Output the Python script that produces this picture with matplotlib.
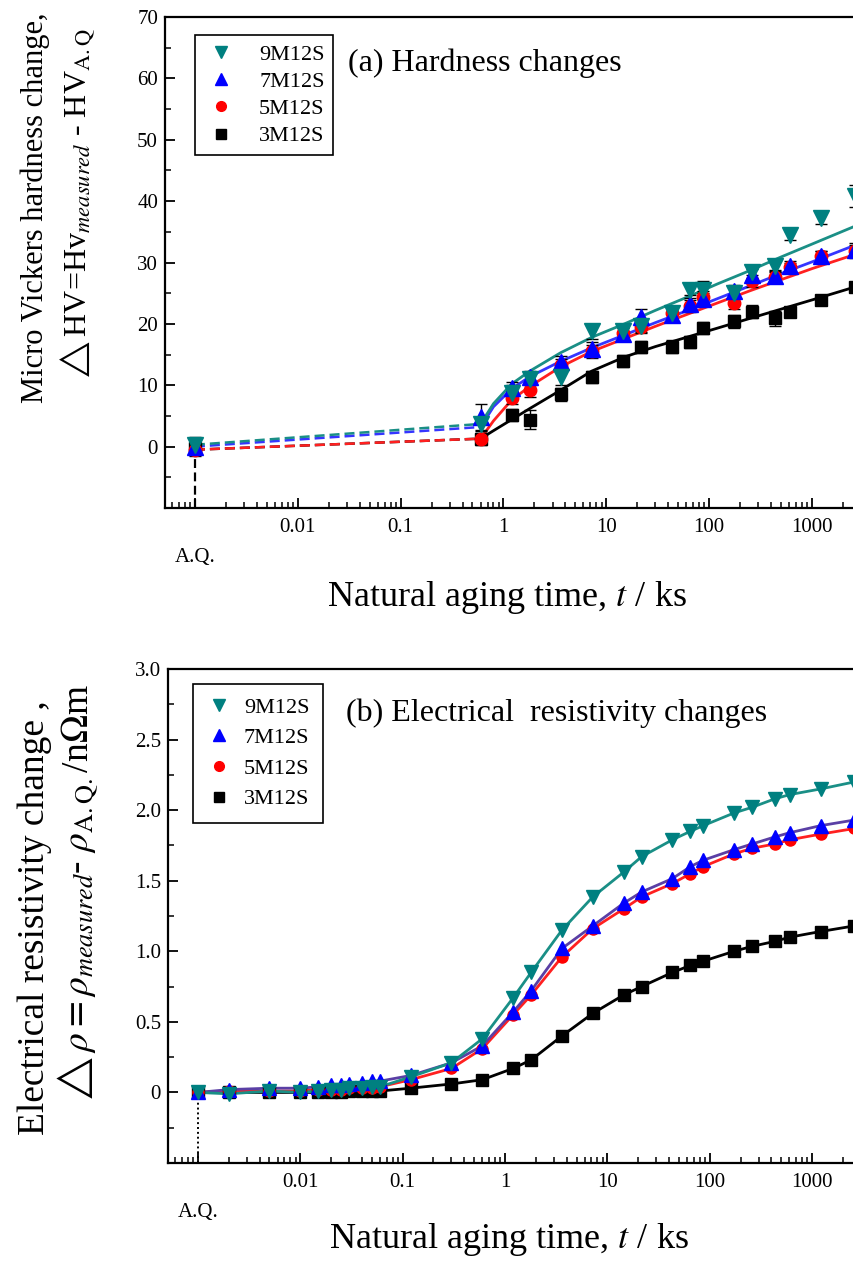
import numpy as np
import matplotlib
matplotlib.use("Agg")
import matplotlib.pyplot as plt
from matplotlib.lines import Line2D
from matplotlib.ticker import LogLocator, MultipleLocator, NullFormatter
import matplotlib.transforms as mtransforms

plt.rcParams['font.family'] = ['Liberation Serif', 'DejaVu Serif']
plt.rcParams['mathtext.fontset'] = 'stix'

# ---- (a) hardness data ----
t_hv = [0.001, 0.6, 1.2, 1.8, 3.6, 7.2, 14.4, 21.6, 43.2, 64.8, 86.4, 172.8, 259.2, 432, 604.8, 1209.6, 2592]
hv_9 = [0.3, 3.7, 8.8, 11.0, 11.3, 18.8, 18.9, 19.7, 21.8, 25.5, 25.5, 25.0, 28.4, 29.5, 34.4, 37.2, 40.9]
hv_7 = [0.0, 4.8, 9.6, 11.3, 13.8, 15.9, 18.3, 21.2, 21.5, 23.2, 24.0, 25.3, 28.0, 27.8, 29.4, 31.0, 32.1]
hv_5 = [-0.5, 1.3, 8.0, 9.3, 13.3, 15.5, 18.5, 19.5, 21.7, 22.9, 24.3, 23.4, 27.0, 27.6, 29.2, 31.0, 31.8]
hv_3 = [-0.3, 1.2, 5.2, 4.4, 8.5, 11.4, 13.9, 16.2, 16.3, 17.0, 19.3, 20.4, 22.0, 20.9, 22.0, 23.9, 26.0]
err_9 = [1.2, 1.0, 1.2, 1.0, 1.3, 1.2, 1.0, 1.0, 1.0, 0.8, 1.5, 1.0, 1.0, 1.0, 0.8, 1.0, 1.8]
err_7 = [1.0, 2.2, 1.0, 1.0, 1.0, 1.2, 1.0, 1.2, 1.0, 1.0, 1.0, 1.0, 1.0, 1.0, 0.8, 0.8, 1.0]
err_5 = [1.0, 1.0, 1.0, 1.2, 1.0, 1.0, 1.0, 1.0, 1.0, 1.0, 1.0, 1.0, 1.0, 1.0, 0.8, 0.8, 1.0]
err_3 = [1.0, 0.8, 1.0, 1.5, 1.0, 1.0, 1.0, 1.0, 1.0, 1.0, 1.0, 1.0, 1.0, 1.2, 0.8, 0.8, 0.8]

# fitted curves (aged part) and dashed connection from A.Q.
t_fit_hv = [0.6, 0.8, 1.2, 1.8, 3.6, 7.2, 15, 30, 60, 120, 250, 500, 1000, 2600]
fit_9 = [3.7, 7.0, 10.2, 12.3, 15.3, 17.8, 20.0, 22.2, 24.3, 26.5, 28.7, 30.9, 33.0, 35.9]
fit_7 = [3.2, 6.5, 9.4, 11.4, 13.9, 16.1, 18.2, 20.2, 22.1, 24.1, 26.2, 28.2, 30.1, 32.8]
fit_5 = [1.3, 4.2, 7.6, 9.8, 13.0, 15.5, 17.6, 19.6, 21.5, 23.4, 25.4, 27.2, 29.0, 31.3]
fit_3 = [1.3, 2.6, 4.4, 6.2, 9.2, 12.3, 14.6, 16.3, 17.8, 19.3, 20.9, 22.4, 23.9, 26.0]
t_dash = [0.001, 0.6]
dash_9 = [0.3, 3.7]
dash_7 = [0.0, 3.2]
dash_5 = [-0.5, 1.3]
dash_3 = [-0.5, 1.3]

# ---- (b) resistivity data ----
t_rho = [0.001, 0.002, 0.005, 0.01, 0.015, 0.02, 0.025, 0.03, 0.04, 0.05, 0.06, 0.12, 0.3, 0.6,
         1.2, 1.8, 3.6, 7.2, 14.4, 21.6, 43.2, 64.8, 86.4, 172.8, 259.2, 432, 604.8, 1209.6, 2592]
rho_9 = [0.0, -0.01, 0.01, 0.0, 0.01, 0.02, 0.02, 0.03, 0.03, 0.04, 0.04, 0.11, 0.21, 0.38,
         0.67, 0.85, 1.15, 1.385, 1.56, 1.67, 1.79, 1.85, 1.89, 1.98, 2.02, 2.08, 2.11, 2.15, 2.20]
rho_7 = [0.0, 0.02, 0.03, 0.03, 0.04, 0.05, 0.05, 0.06, 0.07, 0.08, 0.08, 0.12, 0.21, 0.33,
         0.57, 0.72, 1.02, 1.18, 1.34, 1.42, 1.515, 1.60, 1.645, 1.72, 1.76, 1.81, 1.84, 1.89, 1.93]
rho_5 = [0.0, 0.01, 0.01, 0.01, 0.02, 0.02, 0.02, 0.03, 0.03, 0.03, 0.04, 0.09, 0.17, 0.31,
         0.55, 0.69, 0.96, 1.16, 1.30, 1.385, 1.48, 1.55, 1.60, 1.69, 1.73, 1.76, 1.79, 1.83, 1.87]
rho_3 = [0.0, 0.0, 0.0, 0.0, 0.0, 0.0, 0.0, 0.01, 0.01, 0.01, 0.01, 0.03, 0.06, 0.09,
         0.17, 0.23, 0.40, 0.56, 0.69, 0.75, 0.85, 0.90, 0.93, 1.00, 1.035, 1.07, 1.10, 1.14, 1.18]

labels = ["9M12S", "7M12S", "5M12S", "3M12S"]
markers = ["v", "^", "o", "s"]
mcolors = ["#008080", "#0000ff", "#ff0000", "#000000"]
lcolors_a = ["#1a8f86", "#3535ff", "#ff2020", "#000000"]
lcolors_b = ["#1a8f86", "#5a3fa5", "#ff2020", "#000000"]
msizes = [11, 11, 9, 9]

fig = plt.figure(figsize=(8.54, 12.7), dpi=100)
ax1 = fig.add_axes([165/854, 1-508/1270, 1-165/854, (508-17)/1270])
ax2 = fig.add_axes([168/854, 1-1163/1270, 1-168/854, (1163-669)/1270])


def style_axis(ax, xmin, xmax):
    ax.set_xscale('log')
    ax.set_xlim(xmin, xmax)
    ax.xaxis.set_major_locator(LogLocator(base=10, numticks=20))
    ax.xaxis.set_minor_locator(LogLocator(base=10, subs=np.arange(2, 10), numticks=20))
    ax.xaxis.set_minor_formatter(NullFormatter())
    ax.set_xticks([0.001, 0.01, 0.1, 1, 10, 100, 1000])
    ax.set_xticklabels(["", "0.01", "0.1", "1", "10", "100", "1000"])
    ax.tick_params(which='major', direction='in', length=7, width=1.3, labelsize=15)
    ax.tick_params(which='minor', direction='in', length=4, width=1.1)
    ax.tick_params(axis='x', which='major', pad=7)
    ax.tick_params(axis='y', which='major', pad=5)
    for s in ['left', 'bottom', 'top']:
        ax.spines[s].set_linewidth(1.6)
    ax.spines['right'].set_visible(False)
    trans = mtransforms.blended_transform_factory(ax.transData, ax.transAxes)
    ax.text(0.001, -0.1, "A.Q.", transform=trans, ha='center', va='center', fontsize=15)


# ---------- panel (a) ----------
style_axis(ax1, 5.12e-4, 2560)
ax1.set_ylim(-10, 70)
ax1.set_yticks(np.arange(0, 71, 10))
ax1.yaxis.set_minor_locator(MultipleLocator(5))

ax1.plot([0.001, 0.001], [-10, hv_3[0]], color='black', ls=(0, (4, 2)), lw=1.6, zorder=1)
for dv, c in zip([dash_3, dash_5, dash_7, dash_9], [lcolors_a[3], lcolors_a[2], lcolors_a[1], lcolors_a[0]]):
    ax1.plot(t_dash, dv, color=c, ls=(0, (4, 2)), lw=1.8, zorder=2)
for fv, c in zip([fit_3, fit_5, fit_7, fit_9], [lcolors_a[3], lcolors_a[2], lcolors_a[1], lcolors_a[0]]):
    ax1.plot(t_fit_hv, fv, color=c, lw=2, zorder=2)

series_a = [(hv_3, err_3, 3), (hv_5, err_5, 2), (hv_7, err_7, 1), (hv_9, err_9, 0)]
for vals, errs, i in series_a:
    ax1.errorbar(t_hv, vals, yerr=errs, fmt='none', ecolor='black', elinewidth=1, capsize=4, capthick=1, zorder=3)
    ax1.plot(t_hv, vals, ls='none', marker=markers[i], color=mcolors[i], ms=msizes[i], zorder=4)

handles = [Line2D([], [], ls='none', marker=markers[i], color=mcolors[i], ms=msizes[i] - 2) for i in range(4)]
leg1 = ax1.legend(handles, labels, loc='upper left', bbox_to_anchor=(0.043, 0.963), borderaxespad=0,
                  fontsize=16, frameon=True, fancybox=False, edgecolor='black', framealpha=1,
                  labelspacing=0.3, handletextpad=0.9, borderpad=0.4, handlelength=1.6)
leg1.get_frame().set_linewidth(1.2)
ax1.text(0.265, 0.906, "(a) Hardness changes", transform=ax1.transAxes, fontsize=23, va='center', ha='left')

# ---------- panel (b) ----------
style_axis(ax2, 5.1e-4, 2570)
ax2.set_ylim(-0.5, 3.0)
ax2.set_yticks([0, 0.5, 1.0, 1.5, 2.0, 2.5, 3.0])
ax2.set_yticklabels(["0", "0.5", "1.0", "1.5", "2.0", "2.5", "3.0"])
ax2.yaxis.set_minor_locator(MultipleLocator(0.25))

ax2.plot([0.001, 0.001], [-0.5, 0], color='black', ls=(0, (1, 1.5)), lw=1.4, zorder=1)
series_b = [(rho_3, 3), (rho_5, 2), (rho_7, 1), (rho_9, 0)]
for vals, i in series_b:
    ax2.plot(t_rho, vals, color=lcolors_b[i], lw=2, zorder=2)
for vals, i in series_b:
    ax2.plot(t_rho, vals, ls='none', marker=markers[i], color=mcolors[i], ms=msizes[i] - 1, zorder=3)

handles = [Line2D([], [], ls='none', marker=markers[i], color=mcolors[i], ms=msizes[i] - 2) for i in range(4)]
leg2 = ax2.legend(handles, labels, loc='upper left', bbox_to_anchor=(0.036, 0.97), borderaxespad=0,
                  fontsize=16, frameon=True, fancybox=False, edgecolor='black', framealpha=1,
                  labelspacing=0.45, handletextpad=0.5, borderpad=0.6, handlelength=1.2)
leg2.get_frame().set_linewidth(1.2)
ax2.text(0.26, 0.911, "(b) Electrical  resistivity changes", transform=ax2.transAxes, fontsize=23,
         va='center', ha='left')

# ---------- axis titles ----------
fig.text(35/854, 1-208/1270, "Micro Vickers hardness change,", rotation=90, ha='center', va='center', fontsize=22)
fig.text(78/854, 1-205/1270, r"$\triangle$HV=Hv$_{measured}$ - HV$_{\mathrm{A.Q}}$", rotation=90,
         ha='center', va='center', fontsize=23)
fig.text(507/854, 1-597/1270, r"Natural aging time, $t$ / ks", ha='center', va='center', fontsize=26)

fig.text(35/854, 1-918/1270, "Electrical resistivity change ,", rotation=90, ha='center', va='center', fontsize=27)
fig.text(78/854, 1-895/1270, r"$\triangle\rho = \rho_{measured}$- $\rho_{\mathrm{A.Q.}}$/n$\Omega$m", rotation=90,
         ha='center', va='center', fontsize=27)
fig.text(509/854, 1-1240/1270, r"Natural aging time, $t$ / ks", ha='center', va='center', fontsize=26)

fig.savefig("out.png", dpi=100)
